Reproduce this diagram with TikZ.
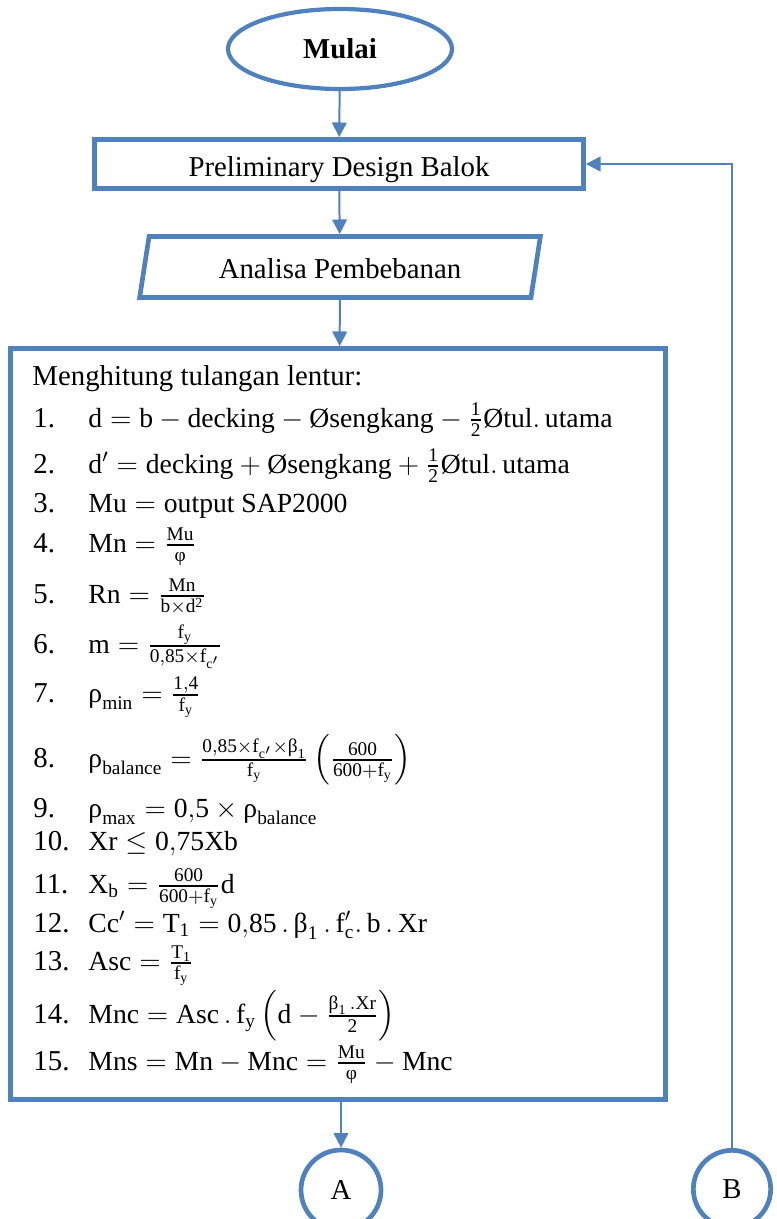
\documentclass[tikz,border=0pt]{standalone}
\usepackage{amsmath}
\usepackage{fontspec}
\setmainfont{Liberation Serif}
\usepackage{tikz}
\usetikzlibrary{arrows.meta,shapes.geometric}

\definecolor{flowblue}{RGB}{79,129,189}
\newcommand{\dia}{\text{Ø}}
\newcommand{\gr}[1]{\text{#1}}
\newcommand{\numlbl}[1]{\makebox[8.25mm][l]{#1}}
\newcommand{\fml}[1]{{\fontsize{11.8}{14}\selectfont$\mathrm{#1}$}}

\begin{document}
\begin{tikzpicture}[
    x=0.15mm,y=-0.15mm,
    terminal/.style={draw=flowblue, line width=1.8pt, ellipse, inner sep=0pt,
      minimum width=33.6mm, minimum height=12mm, font=\fontsize{12.3}{14}\selectfont\bfseries},
    process/.style={draw=flowblue, line width=2pt, rectangle, inner sep=0pt,
      font=\fontsize{12.3}{14}\selectfont},
    io/.style={draw=flowblue, line width=2pt, trapezium, trapezium left angle=76,
      trapezium right angle=104, trapezium stretches=true, inner sep=0pt,
      font=\fontsize{12.3}{14}\selectfont},
    connector/.style={draw=flowblue, line width=2pt, circle, inner sep=0pt,
      font=\fontsize{12.3}{14}\selectfont},
    row/.style={anchor=base west, inner sep=0pt, font=\fontsize{12.3}{14}\selectfont},
    edge/.style={-{Triangle[length=2.2mm,width=2.2mm]}, draw=flowblue, line width=0.85pt}
  ]
    \useasboundingbox (0,0) rectangle (777,1219);
    \clip (0,0) rectangle (777,1219);

    \node[terminal] (start) at (340,49) {Mulai};
    \node[process, minimum width=73.35mm, minimum height=7.35mm,
      text height=3.9mm, text depth=0pt] (design) at (339,164) {Preliminary Design Balok};
    \node[io, minimum width=60.15mm, minimum height=9.15mm,
      text height=3.6mm, text depth=0pt] (load) at (340,267) {Analisa Pembebanan};
    \node[process, minimum width=98.25mm, minimum height=112.65mm] (calc) at (338,724) {};
    \node[connector, minimum size=12mm] (conA) at (341,1190) {A};
    \node[connector, minimum size=11.6mm] (conB) at (732,1189) {B};

    \node[row] (head) at (32,385) {Menghitung tulangan lentur:};
    \node[row] (l1) at (33,427) {\numlbl{1.}\fml{d = b - decking - \dia sengkang - \frac{1}{2}\dia tul.\,utama}};
    \node[row] (l2) at (33,473) {\numlbl{2.}\fml{d' = decking + \dia sengkang + \frac{1}{2}\dia tul.\,utama}};
    \node[row] (l3) at (33,512) {\numlbl{3.}\fml{Mu = output\ SAP2000}};
    \node[row] (l4) at (33,552) {\numlbl{4.}\fml{Mn = \frac{Mu}{\gr{φ}}}};
    \node[row] (l5) at (33,603) {\numlbl{5.}\fml{Rn = \frac{Mn}{b\times d^2}}};
    \node[row] (l6) at (33,653) {\numlbl{6.}\fml{m = \frac{f_y}{0{,}85\times f_{c'}}}};
    \node[row] (l7) at (33,702) {\numlbl{7.}\fml{\gr{ρ}_{min} = \frac{1{,}4}{f_y}}};
    \node[row] (l8) at (33,767) {\numlbl{8.}\fml{\gr{ρ}_{balance} = \frac{0{,}85\times f_{c'}\times\gr{β}_1}{f_y}\left(\frac{600}{600+f_y}\right)}};
    \node[row] (l9) at (33,817) {\numlbl{9.}\fml{\gr{ρ}_{max} = 0{,}5\times\gr{ρ}_{balance}}};
    \node[row] (l10) at (33,850) {\numlbl{10.}\fml{Xr \leq 0{,}75Xb}};
    \node[row] (l11) at (33,893) {\numlbl{11.}\fml{X_b = \frac{600}{600+f_y}d}};
    \node[row] (l12) at (33,932) {\numlbl{12.}\fml{Cc' = T_1 = 0{,}85\,.\,\gr{β}_1\,.\,f'_c.\,b\,.\,Xr}};
    \node[row] (l13) at (33,970) {\numlbl{13.}\fml{Asc = \frac{T_1}{f_y}}};
    \node[row] (l14) at (33,1023) {\numlbl{14.}\fml{Mnc = Asc\,.\,f_y\left(d - \frac{\gr{β}_1\,.Xr}{2}\right)}};
    \node[row] (l15) at (33,1070) {\numlbl{15.}\fml{Mns = Mn - Mnc = \frac{Mu}{\gr{φ}} - Mnc}};

    \draw[edge] (start) -- (design);
    \draw[edge] (design) -- (load);
    \draw[edge] (load) -- (calc);
    \draw[edge] (conA.north |- calc.south) -- (conA.north);
    \draw[edge] (conB.north) |- (design.east);
  \end{tikzpicture}
\end{document}
